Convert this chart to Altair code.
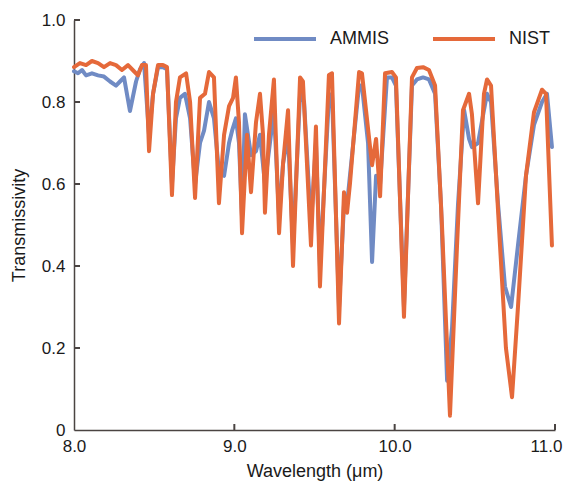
import altair as alt
import pandas as pd

# NIST (orange) series
wl_nist = [8.000, 8.037, 8.075, 8.112, 8.150, 8.187, 8.225, 8.262, 8.299, 8.337,
           8.374, 8.399, 8.424, 8.449, 8.468, 8.493, 8.524, 8.555, 8.580, 8.611,
           8.636, 8.661, 8.699, 8.724, 8.755, 8.786, 8.817, 8.842, 8.873, 8.904,
           8.936, 8.967, 8.992, 9.010, 9.029, 9.048, 9.079, 9.104, 9.135, 9.160,
           9.179, 9.191, 9.216, 9.247, 9.279, 9.304, 9.335, 9.366, 9.410, 9.428,
           9.478, 9.509, 9.534, 9.590, 9.609, 9.653, 9.684, 9.703, 9.721, 9.778,
           9.796, 9.859, 9.884, 9.909, 9.940, 9.983, 10.008, 10.058, 10.108, 10.139,
           10.177, 10.214, 10.252, 10.295, 10.345, 10.389, 10.426, 10.464, 10.482, 10.520,
           10.557, 10.576, 10.601, 10.657, 10.694, 10.732, 10.769, 10.819, 10.869, 10.919,
           10.944, 10.981]
t_nist = [0.885, 0.895, 0.89, 0.90, 0.895, 0.885, 0.895, 0.89, 0.878, 0.89,
          0.875, 0.865, 0.89, 0.89, 0.68, 0.82, 0.89, 0.89, 0.885, 0.573,
          0.80, 0.86, 0.87, 0.80, 0.566, 0.81, 0.82, 0.873, 0.86, 0.553,
          0.72, 0.79, 0.81, 0.86, 0.75, 0.48, 0.72, 0.58, 0.75, 0.82,
          0.72, 0.53, 0.72, 0.855, 0.48, 0.65, 0.78, 0.40, 0.86, 0.85,
          0.45, 0.74, 0.35, 0.866, 0.87, 0.26, 0.58, 0.53, 0.60, 0.873,
          0.87, 0.646, 0.71, 0.57, 0.87, 0.873, 0.86, 0.276, 0.86, 0.883,
          0.885, 0.878, 0.84, 0.50, 0.035, 0.45, 0.78, 0.82, 0.77, 0.553,
          0.82, 0.855, 0.84, 0.45, 0.20, 0.08, 0.30, 0.62, 0.775, 0.83,
          0.82, 0.45]

# AMMIS (blue) series
wl_ammis = [8.000, 8.025, 8.050, 8.075, 8.112, 8.150, 8.187, 8.225, 8.262, 8.287,
            8.312, 8.349, 8.387, 8.412, 8.437, 8.468, 8.493, 8.524, 8.555, 8.580,
            8.611, 8.636, 8.661, 8.692, 8.724, 8.755, 8.786, 8.811, 8.842, 8.873,
            8.904, 8.936, 8.967, 8.986, 9.010, 9.029, 9.048, 9.066, 9.104, 9.135,
            9.160, 9.191, 9.222, 9.247, 9.279, 9.304, 9.335, 9.366, 9.410, 9.435,
            9.478, 9.509, 9.534, 9.590, 9.609, 9.653, 9.684, 9.703, 9.778, 9.796,
            9.834, 9.859, 9.884, 9.909, 9.952, 9.983, 10.008, 10.058, 10.108, 10.139,
            10.177, 10.214, 10.252, 10.289, 10.327, 10.358, 10.395, 10.433, 10.464, 10.482,
            10.520, 10.557, 10.576, 10.601, 10.645, 10.688, 10.726, 10.769, 10.819, 10.869,
            10.919, 10.950, 10.981]
t_ammis = [0.875, 0.87, 0.878, 0.865, 0.87, 0.865, 0.862, 0.85, 0.84, 0.85,
           0.86, 0.778, 0.85, 0.88, 0.895, 0.72, 0.82, 0.885, 0.885, 0.88,
           0.60, 0.76, 0.81, 0.82, 0.76, 0.60, 0.70, 0.73, 0.80, 0.76,
           0.63, 0.62, 0.70, 0.73, 0.76, 0.70, 0.52, 0.77, 0.67, 0.68,
           0.72, 0.60, 0.70, 0.78, 0.52, 0.65, 0.72, 0.45, 0.82, 0.80,
           0.50, 0.70, 0.40, 0.81, 0.82, 0.30, 0.55, 0.55, 0.84, 0.84,
           0.70, 0.41, 0.62, 0.60, 0.86, 0.86, 0.84, 0.30, 0.84, 0.855,
           0.86, 0.855, 0.82, 0.55, 0.12, 0.25, 0.55, 0.78, 0.71, 0.69,
           0.70, 0.78, 0.82, 0.80, 0.55, 0.35, 0.30, 0.45, 0.62, 0.744,
           0.80, 0.82, 0.69]

series_names = ["AMMIS", "NIST"]
series_colors = ["#708BC4", "#E5693A"]
x_tick_values = [8.0, 9.0, 10.0, 11.0]
y_tick_values = [0.0, 0.2, 0.4, 0.6, 0.8, 1.0]

df = pd.concat([
    pd.DataFrame({"wavelength": wl_ammis, "T": t_ammis, "series": "AMMIS"}),
    pd.DataFrame({"wavelength": wl_nist, "T": t_nist, "series": "NIST"}),
], ignore_index=True)

AXIS_COLOR = "#4a4442"
FONT = "Liberation Sans"
X_TITLE = "Wavelength (μm)"
Y_TITLE = "Transmissivity"

x_scale = alt.Scale(domain=[8, 11], nice=False, zero=False)
y_scale = alt.Scale(domain=[0, 1], nice=False)

x_axis = alt.Axis(
    values=x_tick_values, format=".1f", grid=False, tickSize=0, labelFlush=False,
    labelPadding=8, titlePadding=8, domainColor=AXIS_COLOR, domainWidth=1.5,
    labelFontSize=17, titleFontSize=18, titleFontWeight="normal",
    labelColor="#1a1a1a", titleColor="#1a1a1a", labelFont=FONT, titleFont=FONT,
    labelOffset={"condition": {"test": "datum.value == 11", "value": -9}, "value": 0},
)
y_axis = alt.Axis(
    values=y_tick_values, labelExpr="datum.value == 0 ? '0' : format(datum.value, '.1f')",
    grid=False, tickSize=0, labelPadding=9, titlePadding=13, labelFlush=False,
    domainColor=AXIS_COLOR, domainWidth=1.5,
    labelFontSize=17, titleFontSize=18, titleFontWeight="normal",
    labelColor="#1a1a1a", titleColor="#1a1a1a", labelFont=FONT, titleFont=FONT,
)

lines = alt.Chart(df).mark_line(strokeWidth=4, strokeJoin="round", strokeCap="round").encode(
    x=alt.X("wavelength:Q", scale=x_scale, axis=x_axis, title=X_TITLE),
    y=alt.Y("T:Q", scale=y_scale, axis=y_axis, title=Y_TITLE),
    color=alt.Color(
        "series:N",
        scale=alt.Scale(domain=series_names, range=series_colors),
        legend=alt.Legend(
            orient="none", legendX=178, legendY=-14, direction="horizontal", title=None,
            symbolType="stroke", symbolSize=3844, symbolStrokeWidth=4,
            labelFontSize=18, labelFont=FONT, labelColor="#1a1a1a",
            labelOffset=12, columnPadding=35,
        ),
    ),
)

# inward-pointing axis ticks
x_ticks = alt.Chart(pd.DataFrame({"v": x_tick_values[1:]})).mark_rule(
    color=AXIS_COLOR, strokeWidth=2
).encode(
    x=alt.X("v:Q", scale=x_scale, title=X_TITLE),
    y=alt.value(410), y2=alt.value(404),
)
y_ticks = alt.Chart(pd.DataFrame({"v": y_tick_values[1:]})).mark_rule(
    color=AXIS_COLOR, strokeWidth=2
).encode(
    y=alt.Y("v:Q", scale=y_scale, title=Y_TITLE),
    x=alt.value(0), x2=alt.value(6),
)

chart = alt.layer(lines, x_ticks, y_ticks).properties(
    width=481, height=410,
    padding={"left": 66, "top": 12, "right": 8, "bottom": 51},
    autosize=alt.AutoSizeParams(type="none"),
    background="white",
).configure_view(stroke=None)

chart.save("out.html", embed_options={"renderer": "svg", "actions": False})
